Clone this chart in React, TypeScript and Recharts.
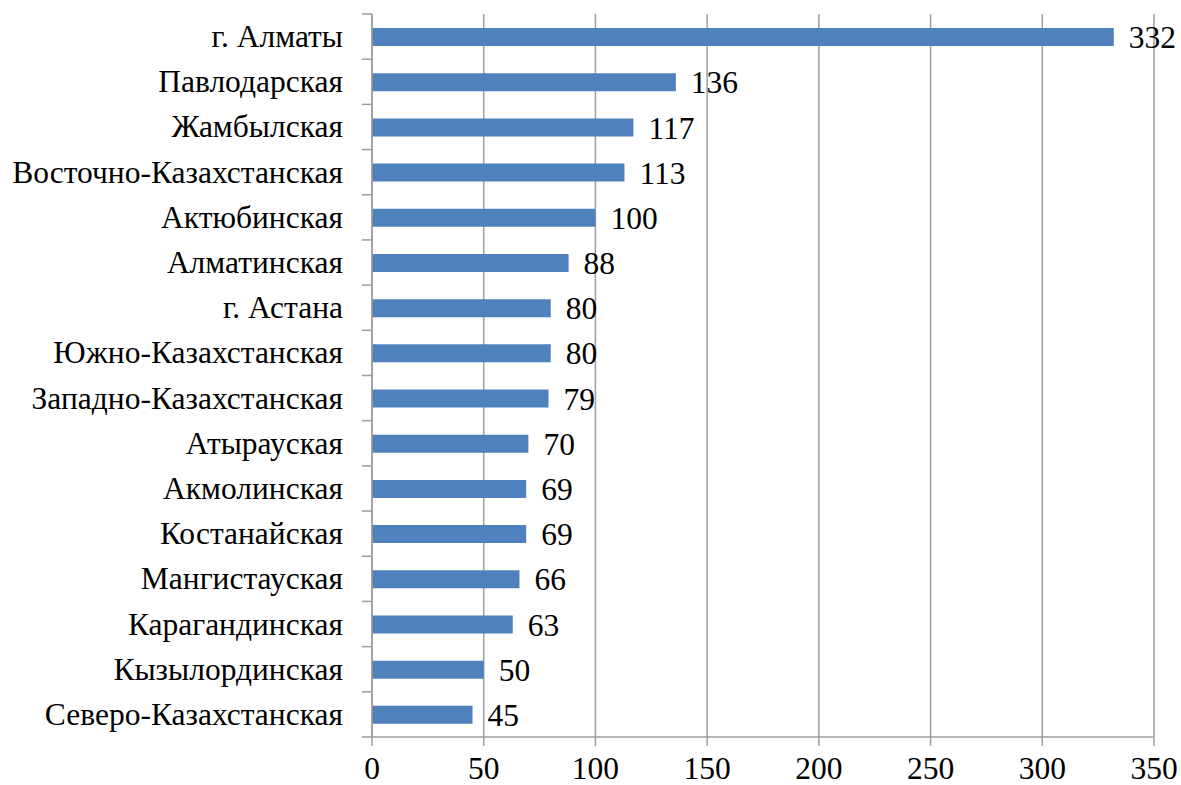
import { BarChart, Bar, XAxis, YAxis, CartesianGrid, LabelList } from 'recharts';

const regions = [
    'г. Алматы',
    'Павлодарская',
    'Жамбылская',
    'Восточно-Казахстанская',
    'Актюбинская',
    'Алматинская',
    'г. Астана',
    'Южно-Казахстанская',
    'Западно-Казахстанская',
    'Атырауская',
    'Акмолинская',
    'Костанайская',
    'Мангистауская',
    'Карагандинская',
    'Кызылординская',
    'Северо-Казахстанская',
];

const counts = [332, 136, 117, 113, 100, 88, 80, 80, 79, 70, 69, 69, 66, 63, 50, 45];

const xTicks = [0, 50, 100, 150, 200, 250, 300, 350];

const data = regions.map((name, i) => ({ name, value: counts[i] }));

const FONT = 'Liberation Serif';
const FONT_SIZE = 31.5;
const GRID = '#9e9e9e';

const W = 1181;
const H = 785;
const TOP = 14;
const X_AXIS_H = 48;
const HALF_BAND = (H - TOP - X_AXIS_H) / regions.length / 2;

// category labels, with the tick marks drawn between the bands
function YTick(props: any) {
    const { x, y, payload, index } = props;
    return (
        <g>
            <line x1={x - 10} x2={x} y1={y - HALF_BAND} y2={y - HALF_BAND} stroke={GRID} strokeWidth={1.5} />
            {index === regions.length - 1 && (
                <line x1={x - 10} x2={x} y1={y + HALF_BAND} y2={y + HALF_BAND} stroke={GRID} strokeWidth={1.5} />
            )}
            <text x={x - 29} y={y} dy={10.5} textAnchor="end" fill="#000" fontFamily={FONT} fontSize={FONT_SIZE}>
                {payload.value}
            </text>
        </g>
    );
}

function XTick(props: any) {
    const { x, y, payload } = props;
    return (
        <text x={x} y={y} dy={16.5} textAnchor="middle" fill="#000" fontFamily={FONT} fontSize={FONT_SIZE}>
            {payload.value}
        </text>
    );
}

export default function App() {
    return (
        <div style={{ position: 'absolute', left: 0, top: 0, background: '#fff' }}>
            <BarChart
                width={W}
                height={H}
                data={data}
                layout="vertical"
                margin={{ top: TOP, right: 27, left: 0, bottom: 0 }}
            >
                <CartesianGrid horizontal={false} stroke={GRID} strokeWidth={1.5} />
                <XAxis
                    type="number"
                    domain={[0, 350]}
                    ticks={xTicks}
                    height={X_AXIS_H}
                    stroke={GRID}
                    strokeWidth={1.5}
                    tickSize={9}
                    tickMargin={16}
                    tick={<XTick />}
                    interval={0}
                />
                <YAxis
                    type="category"
                    dataKey="name"
                    width={372}
                    stroke={GRID}
                    strokeWidth={1.5}
                    tickLine={false}
                    tickSize={0}
                    tickMargin={0}
                    tick={<YTick />}
                    interval={0}
                />
                <Bar dataKey="value" fill="#4f81bd" barSize={18} isAnimationActive={false}>
                    <LabelList
                        dataKey="value"
                        position="right"
                        offset={15}
                        fill="#000"
                        fontFamily={FONT}
                        fontSize={FONT_SIZE}
                    />
                </Bar>
            </BarChart>
        </div>
    );
}
